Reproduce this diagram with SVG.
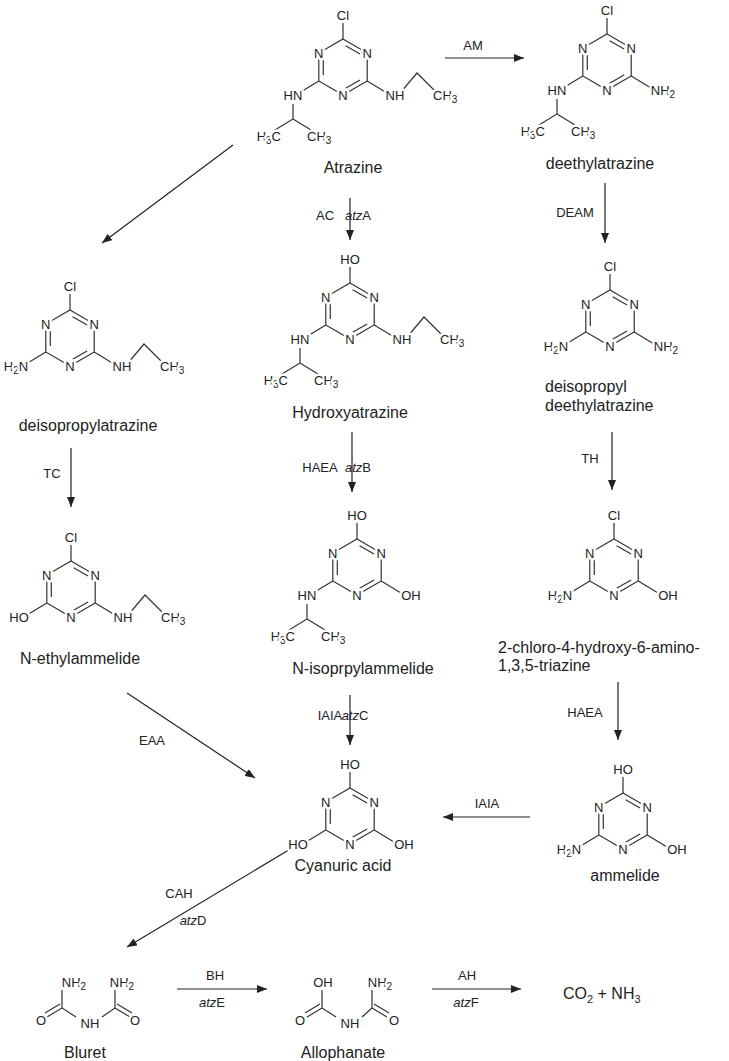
<svg xmlns="http://www.w3.org/2000/svg" xmlns:xlink="http://www.w3.org/1999/xlink" width="729" height="1061" viewBox="0 0 729 1061">
<style>
text{font-family:"Liberation Sans",Arial,sans-serif;fill:#222}
.at{font-size:13px;text-anchor:middle;paint-order:stroke;stroke:#fff;stroke-width:5px;stroke-linejoin:round}
.st{text-anchor:start}.en2{text-anchor:end}
.nm{font-size:16px;text-anchor:middle}
.nl{font-size:16px}
.en{font-size:13px;text-anchor:middle}
.b{stroke:#333;stroke-width:1.2;fill:none}
.ar{stroke:#222;stroke-width:1.2;fill:none;marker-end:url(#ah)}
</style>
<defs>
<marker id="ah" viewBox="0 0 10 8" refX="10" refY="4" markerWidth="10" markerHeight="8" markerUnits="userSpaceOnUse" orient="auto"><path d="M0,0L10,4L0,8z" fill="#222"/></marker>
<g id="ring">
<polygon class="b" points="0,-28 24.2,-14 24.2,14 0,28 -24.2,14 -24.2,-14"/>
<path class="b" d="M2.6,-21.3L17.1,-12.9M-19.7,-8V8M2.6,21.3L17.1,12.9"/>
<text class="at" x="24.2" y="-9">N</text><text class="at" x="-24.2" y="-9">N</text><text class="at" x="0" y="33">N</text>
</g>
<g id="tCl"><path class="b" d="M0,-28V-44"/><text class="at" x="0" y="-47">Cl</text></g>
<g id="tHO"><path class="b" d="M0,-28V-44"/><text class="at" x="0" y="-47">HO</text></g>
<g id="iso"><path class="b" d="M-24.2,14L-44,26M-50,37V52L-68,63M-50,52L-32,63"/><text class="at" x="-50" y="33">HN</text><text class="at en2" x="-62" y="74">H<tspan dy="3" font-size="10">3</tspan><tspan dy="-3">C</tspan></text><text class="at st" x="-36" y="74">CH<tspan dy="3" font-size="10">3</tspan></text></g>
<g id="eth"><path class="b" d="M24.2,14L44,26M58,25L74,6L92,24"/><text class="at" x="52" y="33">NH</text><text class="at st" x="90" y="33">CH<tspan dy="3" font-size="10">3</tspan></text></g>
<g id="lH2N"><path class="b" d="M-24.2,14L-44,26"/><text class="at" x="-54" y="33">H<tspan dy="3" font-size="10">2</tspan><tspan dy="-3">N</tspan></text></g>
<g id="lHO"><path class="b" d="M-24.2,14L-44,26"/><text class="at" x="-52" y="33">HO</text></g>
<g id="rNH2"><path class="b" d="M24.2,14L44,26"/><text class="at" x="56" y="33">NH<tspan dy="3" font-size="10">2</tspan></text></g>
<g id="rOH"><path class="b" d="M24.2,14L44,26"/><text class="at" x="54" y="33">OH</text></g>
</defs>
<rect width="729" height="1061" fill="#fff"/>
<g id="connectors">
<path class="ar" d="M445,58H524"/><text class="en" x="473" y="50">AM</text>
<path class="ar" d="M233,145L102,243"/>
<path class="ar" d="M350,198V240"/><text class="en" x="325" y="220">AC</text><text class="en st" x="358" y="220"><tspan font-style="italic">atz</tspan>A</text>
<path class="ar" d="M605,183V243"/><text class="en" x="575" y="217">DEAM</text>
<path class="ar" d="M71,448V507"/><text class="en" x="52" y="478">TC</text>
<path class="ar" d="M352,432V492"/><text class="en" x="320" y="472">HAEA</text><text class="en st" x="358" y="472"><tspan font-style="italic">atz</tspan>B</text>
<path class="ar" d="M612,432V490"/><text class="en" x="590" y="463">TH</text>
<path class="ar" d="M618,682V740"/><text class="en" x="585" y="717">HAEA</text>
<path class="ar" d="M350,695V745"/><text class="en" x="330" y="720">IAIA</text><text class="en st" x="355" y="720"><tspan font-style="italic">atz</tspan>C</text>
<path class="ar" d="M127,693L255,778"/><text class="en" x="152" y="745">EAA</text>
<path class="ar" d="M530,817H443"/><text class="en" x="487" y="808">IAIA</text>
<path class="ar" d="M292,848L127,947"/><text class="en" x="179" y="898">CAH</text><text class="en st" x="193" y="925"><tspan font-style="italic">atz</tspan>D</text>
<path class="ar" d="M177,989H267"/><text class="en" x="215" y="980">BH</text><text class="en" x="212" y="1007"><tspan font-style="italic">atz</tspan>E</text>
<path class="ar" d="M432,989H521"/><text class="en" x="467" y="980">AH</text><text class="en" x="466" y="1007"><tspan font-style="italic">atz</tspan>F</text>
</g>
<g id="atrazine" transform="translate(343,67)"><use href="#ring"/><use href="#tCl"/><use href="#iso"/><use href="#eth"/><text class="nm" x="10" y="106">Atrazine</text></g>
<g id="deethylatrazine" transform="translate(607,62)"><use href="#ring"/><use href="#tCl"/><use href="#iso"/><use href="#rNH2"/><text class="nm" x="-7" y="107">deethylatrazine</text></g>
<g id="deisopropylatrazine" transform="translate(70,338)"><use href="#ring"/><use href="#tCl"/><use href="#lH2N"/><use href="#eth"/><text class="nm" x="18" y="93">deisopropylatrazine</text></g>
<g id="hydroxyatrazine" transform="translate(350,311)"><use href="#ring"/><use href="#tHO"/><use href="#iso"/><use href="#eth"/><text class="nm" x="0" y="107">Hydroxyatrazine</text></g>
<g id="deisopropyldeethylatrazine" transform="translate(610,318)"><use href="#ring"/><use href="#tCl"/><use href="#lH2N"/><use href="#rNH2"/><text class="nl" x="-65" y="74">deisopropyl</text><text class="nl" x="-65" y="93">deethylatrazine</text></g>
<g id="n-ethylammelide" transform="translate(71,589)"><use href="#ring"/><use href="#tCl"/><use href="#lHO"/><use href="#eth"/><text class="nm" x="9" y="75">N-ethylammelide</text></g>
<g id="n-isoprpylammelide" transform="translate(357,567)"><use href="#ring"/><use href="#tHO"/><use href="#iso"/><use href="#rOH"/><text class="nm" x="6" y="107">N-isoprpylammelide</text></g>
<g id="chlorohydroxyaminotriazine" transform="translate(614,567)"><use href="#ring"/><use href="#tCl"/><use href="#lH2N"/><use href="#rOH"/><text class="nl" x="-116" y="86">2-chloro-4-hydroxy-6-amino-</text><text class="nl" x="-116" y="104">1,3,5-triazine</text></g>
<g id="cyanuric-acid" transform="translate(350,816)"><use href="#ring"/><use href="#tHO"/><use href="#lHO"/><use href="#rOH"/><text class="nm" x="-7" y="55">Cyanuric acid</text></g>
<g id="ammelide" transform="translate(623,821)"><use href="#ring"/><use href="#tHO"/><use href="#lH2N"/><use href="#rOH"/><text class="nm" x="2" y="60">ammelide</text></g>
<g id="bluret">
<path class="b" d="M62,990V1008L76,1017M102,1017L115,1008V990M62,1008L47,1017M60,1004L45,1013M115,1008L130,1017M117,1004L132,1013"/>
<text class="at" x="74" y="987">NH<tspan dy="3" font-size="10">2</tspan></text><text class="at" x="122" y="987">NH<tspan dy="3" font-size="10">2</tspan></text>
<text class="at" x="41" y="1025">O</text><text class="at" x="90" y="1028">NH</text><text class="at" x="135" y="1025">O</text>
<text class="nm" x="85" y="1058">Bluret</text>
</g>
<g id="allophanate">
<path class="b" d="M322,990V1008L336,1017M362,1017L372,1008V990M322,1008L307,1017M320,1004L305,1013M372,1008L387,1017M374,1004L389,1013"/>
<text class="at" x="323" y="987">OH</text><text class="at" x="380" y="987">NH<tspan dy="3" font-size="10">2</tspan></text>
<text class="at" x="300" y="1025">O</text><text class="at" x="350" y="1028">NH</text><text class="at" x="394" y="1025">O</text>
<text class="nm" x="343" y="1058">Allophanate</text>
</g>
<g id="products"><text class="nl" x="563" y="999">CO<tspan dy="4" font-size="11">2</tspan><tspan dy="-4"> + NH</tspan><tspan dy="4" font-size="11">3</tspan></text></g>
</svg>
